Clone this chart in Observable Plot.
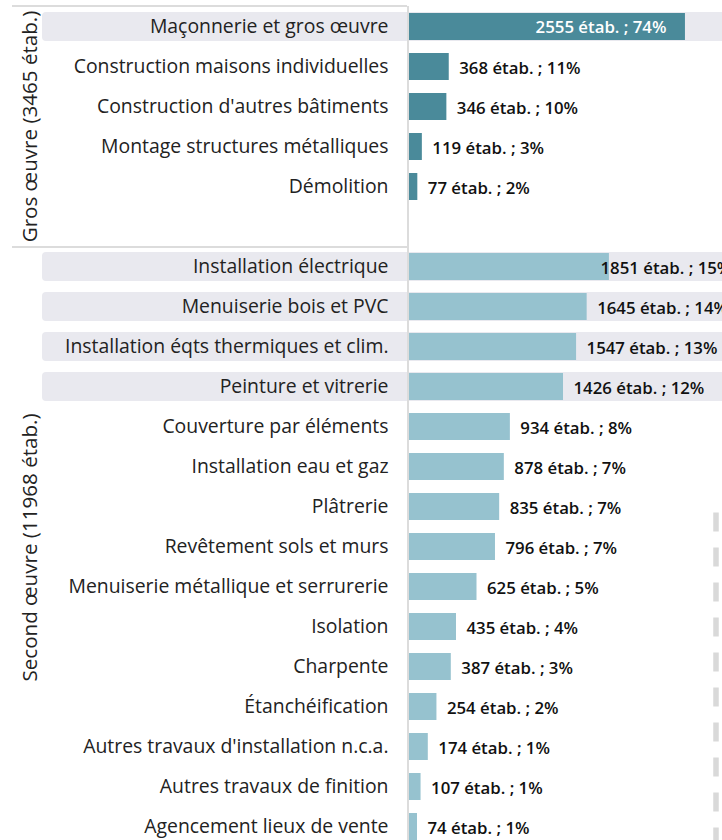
<!DOCTYPE html>
<html><head><meta charset="utf-8">
<script src="https://cdn.jsdelivr.net/npm/d3@7"></script>
<script src="https://cdn.jsdelivr.net/npm/@observablehq/plot@0.6"></script>
<style>
html,body{margin:0;padding:0;background:#fff;overflow:hidden;width:722px;height:840px}
#chart svg{display:block;max-width:none !important}
</style></head><body><div id="chart"></div>
<script>
const groupNames = ["Gros œuvre (3465 étab.)", "Second œuvre (11968 étab.)"];

const grosCategories = [
  "Maçonnerie et gros œuvre",
  "Construction maisons individuelles",
  "Construction d'autres bâtiments",
  "Montage structures métalliques",
  "Démolition"
];
const grosValues = [2555, 368, 346, 119, 77];
const grosPercents = [74, 11, 10, 3, 2];

const secondCategories = [
  "Installation électrique",
  "Menuiserie bois et PVC",
  "Installation éqts thermiques et clim.",
  "Peinture et vitrerie",
  "Couverture par éléments",
  "Installation eau et gaz",
  "Plâtrerie",
  "Revêtement sols et murs",
  "Menuiserie métallique et serrurerie",
  "Isolation",
  "Charpente",
  "Étanchéification",
  "Autres travaux d'installation n.c.a.",
  "Autres travaux de finition",
  "Agencement lieux de vente"
];
const secondValues = [1851, 1645, 1547, 1426, 934, 878, 835, 796, 625, 435, 387, 254, 174, 107, 74];
const secondPercents = [15, 14, 13, 12, 8, 7, 7, 7, 5, 4, 3, 2, 1, 1, 1];

const highlighted = [
  "Maçonnerie et gros œuvre",
  "Installation électrique",
  "Menuiserie bois et PVC",
  "Installation éqts thermiques et clim.",
  "Peinture et vitrerie"
];

const SPACER = "\u200b";
const rows = [
  ...grosCategories.map((c, i) => ({group: 0, cat: c, value: grosValues[i], pct: grosPercents[i]})),
  ...secondCategories.map((c, i) => ({group: 1, cat: c, value: secondValues[i], pct: secondPercents[i]}))
];
const yDomain = [...grosCategories, SPACER, ...secondCategories];
const maxValue = d3.max(rows, d => d.value);
const xMax = 3000;
const labelCap = 1676;
const dashX = 2838;

const colors = ["#4a8a9a", "#96c2cf"];
const fmt = d => `${d.value} étab. ; ${d.pct}%`;

const groupLabels = [
  {name: groupNames[0], anchor: grosCategories[2], dy: 20},
  {name: groupNames[1], anchor: secondCategories[7], dy: 1}
];

// group labels drawn through the y scale (rotated text in the left margin)
function groupLabelMark(index, scales, values, dims) {
  const g = d3.create("svg:g")
    .attr("font-size", 20.6)
    .attr("fill", "#222")
    .attr("text-anchor", "middle");
  for (const d of groupLabels) {
    const cy = scales.y(d.anchor) + scales.y.bandwidth() / 2 + d.dy;
    const cx = dims.marginLeft - 379;
    g.append("text")
      .attr("transform", `translate(${cx},${cy}) rotate(-90)`)
      .attr("dy", "0.35em")
      .text(d.name);
  }
  return g.node();
}

const chart = Plot.plot({
  width: 740,
  height: 846,
  marginLeft: 409,
  marginRight: 7,
  marginTop: 6,
  marginBottom: 0,
  style: {fontFamily: "'Open Sans', sans-serif", background: "white", overflow: "visible", color: "#222", maxWidth: "none"},
  x: {domain: [0, xMax], axis: null},
  y: {domain: yDomain, range: [6, 846], paddingInner: 0.33, paddingOuter: 0.165, align: 0.5},
  marks: [
    // highlight bands
    Plot.barX(rows.filter(d => highlighted.includes(d.cat)), {
      x1: 0, x2: xMax, y: "cat",
      insetLeft: -367, insetTop: -1, insetBottom: -1, rx: 4,
      fill: "#e9e9ef"
    }),
    // panel frame lines
    Plot.ruleX([0], {dx: -1.5, stroke: "#dcdcdc", strokeWidth: 2}),
    Plot.ruleY([grosCategories[0]], {y: d => d, dy: -21, insetLeft: -397, insetRight: 326, stroke: "#dcdcdc", strokeWidth: 2}),
    Plot.ruleY([secondCategories[0]], {y: d => d, dy: -20, insetLeft: -397, insetRight: 326, stroke: "#dcdcdc", strokeWidth: 2}),
    // dashed line
    Plot.ruleX([{x: dashX, from: secondCategories[6], to: secondCategories[secondCategories.length - 1]}], {
      x: "x", y1: "from", y2: "to", insetTop: 19.5, insetBottom: -12,
      stroke: "#d9d9d9", strokeWidth: 5.5, strokeDasharray: "19 16"
    }),
    // bars
    Plot.barX(rows, {x: "value", y: "cat", fill: d => colors[d.group]}),
    // value labels inside (largest)
    Plot.text(rows.filter(d => d.value === maxValue), {
      x: "value", y: "cat", text: fmt, textAnchor: "end", dx: -19, dy: 1,
      fill: "white", fontSize: 16.8, fontWeight: 600
    }),
    // value labels outside
    Plot.text(rows.filter(d => d.value !== maxValue), {
      x: d => Math.min(d.value, labelCap), y: "cat", text: fmt, textAnchor: "start", dx: 10, dy: 2,
      fill: "#111", fontSize: 16.8, fontWeight: 600
    }),
    // category labels
    Plot.axisY({tickSize: 0, tickPadding: 21, fontSize: 19.4, label: null, tickFormat: d => d === SPACER ? "" : d}),
    // group labels
    groupLabelMark
  ]
});
document.getElementById("chart").append(chart);
</script>
</body></html>
